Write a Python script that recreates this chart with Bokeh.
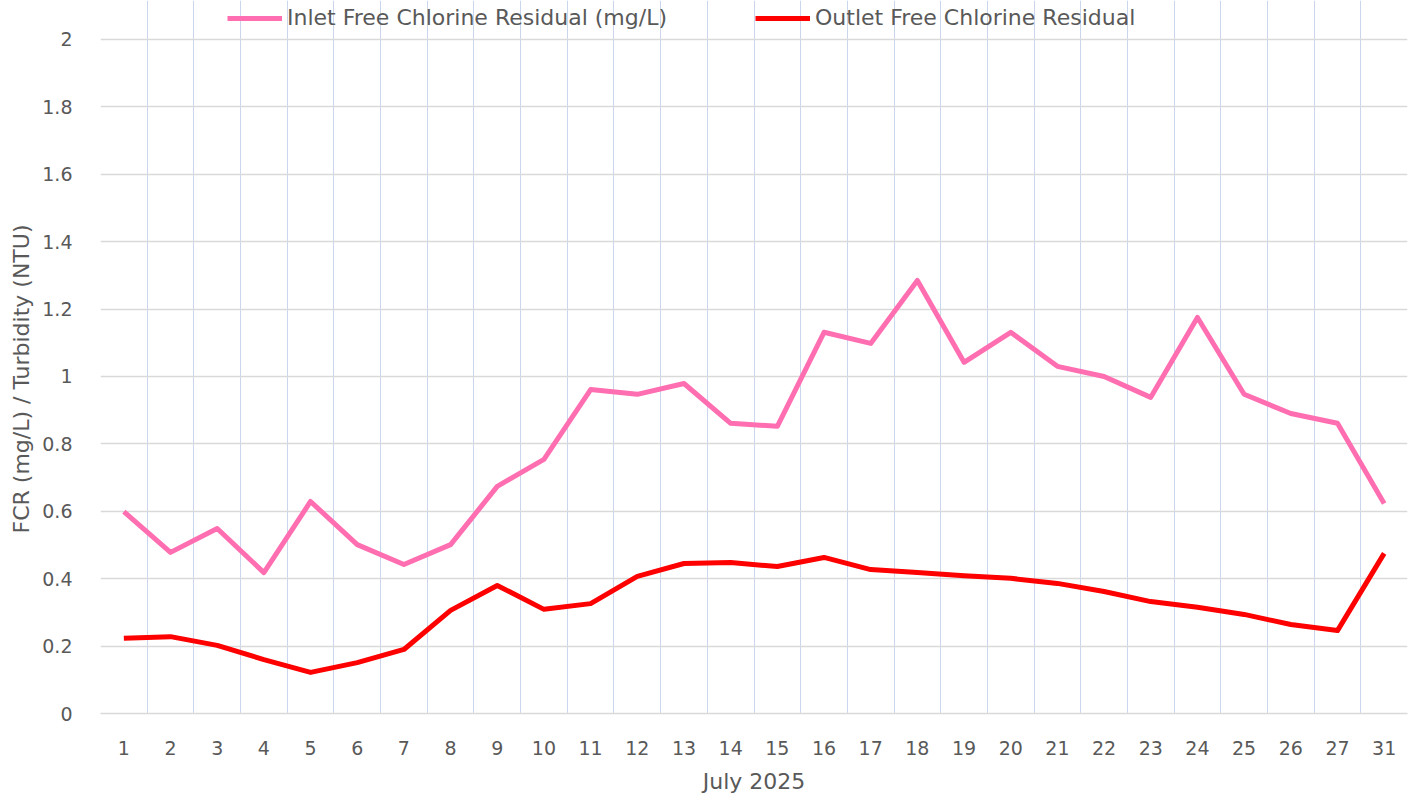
from bokeh.plotting import figure
from bokeh.models import (ColumnDataSource, FixedTicker, Range1d, Legend, LegendItem,
                          CustomJSTickFormatter, Title)
from bokeh.embed import file_html
from bokeh.resources import INLINE

days = ["1", "2", "3", "4", "5", "6", "7", "8", "9", "10", "11", "12", "13", "14",
        "15", "16", "17", "18", "19", "20", "21", "22", "23", "24", "25", "26", "27", "31"]
inlet = [0.599, 0.478, 0.549, 0.418, 0.629, 0.501, 0.442, 0.501, 0.674, 0.754,
         0.961, 0.947, 0.979, 0.861, 0.852, 1.131, 1.098, 1.285, 1.042, 1.131,
         1.030, 1.000, 0.938, 1.175, 0.947, 0.890, 0.861, 0.623]
outlet = [0.223, 0.228, 0.202, 0.160, 0.122, 0.151, 0.190, 0.306, 0.380, 0.309,
          0.326, 0.407, 0.445, 0.448, 0.436, 0.463, 0.427, 0.418, 0.409, 0.401,
          0.386, 0.362, 0.332, 0.315, 0.294, 0.264, 0.246, 0.475]
y_ticks = [0, 0.2, 0.4, 0.6, 0.8, 1.0, 1.2, 1.4, 1.6, 1.8, 2.0]

FONT = "DejaVu Sans"
TXT = "#595959"

xi = list(range(len(days)))
src = ColumnDataSource(dict(x=xi, inlet=inlet, outlet=outlet))

# frame extends above the 0-2 value band to hold the legend
p = figure(width=1409, height=796, output_backend="svg", toolbar_location=None,
           x_range=Range1d(-0.5, len(days) - 0.5), y_range=Range1d(0, 2.1154),
           min_border_left=94, min_border_right=2, min_border_top=0, min_border_bottom=81)
p.outline_line_color = None
p.background_fill_color = "white"
p.border_fill_color = "white"

p.xgrid.ticker = FixedTicker(ticks=[i - 0.5 for i in range(len(days) + 1)])
p.xgrid.grid_line_color = "#c9d6ec"
p.xgrid.grid_line_width = 1
p.xgrid.bounds = (0, 2)
p.ygrid.ticker = FixedTicker(ticks=y_ticks)
p.ygrid.grid_line_color = "#d9d9d9"
p.ygrid.grid_line_width = 1.5

p.xaxis.ticker = FixedTicker(ticks=xi)
p.xaxis.major_label_overrides = {i: d for i, d in enumerate(days)}
p.yaxis.ticker = FixedTicker(ticks=y_ticks)
p.yaxis.formatter = CustomJSTickFormatter(code="return String(Math.round(tick*10)/10);")

for ax in (p.xaxis[0], p.yaxis[0]):
    ax.major_tick_line_color = None
    ax.minor_tick_line_color = None
    ax.major_label_text_font = FONT
    ax.major_label_text_font_size = "19px"
    ax.major_label_text_color = TXT
    ax.axis_label_text_font = FONT
    ax.axis_label_text_font_size = "22px"
    ax.axis_label_text_color = TXT
    ax.axis_label_text_font_style = "normal"
p.yaxis.axis_line_color = None
p.xaxis.axis_line_color = "#d9d9d9"
p.xaxis.axis_line_width = 1.5
p.xaxis.major_label_standoff = 21
p.yaxis.major_label_standoff = 22
p.xaxis.axis_label = "July 2025"
p.xaxis.axis_label_standoff = 11

ytitle = Title(text="FCR (mg/L) / Turbidity (NTU)", align="left", offset=180,
               text_font=FONT, text_font_size="22px", text_font_style="normal",
               text_color=TXT, standoff=12)
p.add_layout(ytitle, "left")

r1 = p.line("x", "inlet", source=src, line_color="#ff6eb0", line_width=5, line_join="round")
r2 = p.line("x", "outlet", source=src, line_color="#ff0000", line_width=5, line_join="round")

lg = Legend(items=[LegendItem(label="Inlet Free Chlorine Residual (mg/L)", renderers=[r1]),
                   LegendItem(label="Outlet Free Chlorine Residual", renderers=[r2])],
            location=(127, 683), orientation="horizontal", glyph_width=55, glyph_height=24,
            label_height=24, label_width=468, label_standoff=5, spacing=0, padding=0, margin=0,
            border_line_color=None, background_fill_alpha=0, label_text_font=FONT,
            label_text_font_size="22px", label_text_color=TXT)
p.add_layout(lg, "center")

open("out.html", "w").write(file_html(p, INLINE))
